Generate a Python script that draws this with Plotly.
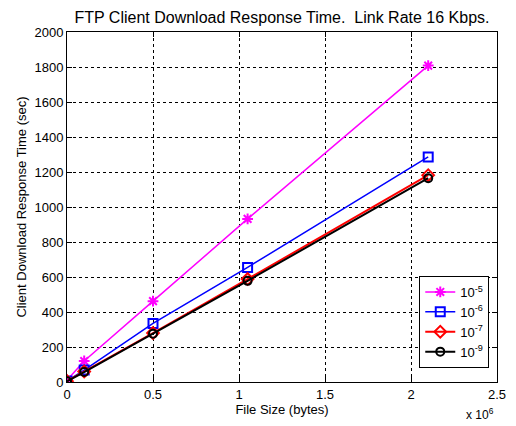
import plotly.graph_objects as go

file_size = [0, 1.0e5, 5.0e5, 1.05e6, 2.1e6]
ber_labels = ["10<sup>-5</sup>", "10<sup>-6</sup>", "10<sup>-7</sup>", "10<sup>-9</sup>"]
resp_1e5 = [10, 120, 462, 932, 1808]
resp_1e6 = [6, 68, 335, 655, 1286]
resp_1e7 = [5, 60, 280, 588, 1182]
resp_1e9 = [4, 57, 276, 578, 1165]

x_tickvals = [0, 5e5, 1e6, 1.5e6, 2e6, 2.5e6]
x_ticktext = ["0", "0.5", "1", "1.5", "2", "2.5"]
y_tickvals = list(range(0, 2001, 200))

series = [
    (resp_1e5, "#ff00ff", "asterisk-open", 9, 1.5),
    (resp_1e6, "#0000ff", "square-open", 9, 1.5),
    (resp_1e7, "#ff0000", "diamond-open", 9, 2),
    (resp_1e9, "#000000", "circle-open", 8, 2),
]

fig = go.Figure()
for (vals, color, sym, size, lw), name in zip(series, ber_labels):
    fig.add_trace(go.Scatter(
        x=file_size, y=vals, name=name, mode="lines+markers",
        line=dict(color=color, width=lw),
        marker=dict(symbol=sym, size=size, color=color,
                    line=dict(color=color, width=2)),
    ))

font = "Liberation Sans, Arial, sans-serif"
axis_common = dict(
    showline=True, linecolor="black", linewidth=1, mirror="ticks",
    ticks="inside", ticklen=5, tickcolor="black",
    showgrid=True, gridcolor="black", gridwidth=1, griddash="3px,3px",
    zeroline=False, tickfont=dict(family=font, size=13, color="black"),
)

fig.update_layout(
    width=508, height=418,
    margin=dict(l=59, r=10, t=24, b=44),
    paper_bgcolor="white", plot_bgcolor="white",
    font=dict(family=font, size=12, color="black"),
    title=dict(text="FTP Client Download Response Time.  Link Rate 16 Kbps.",
               xref="paper", x=0.5, xanchor="center",
               yref="container", y=0.978, yanchor="middle",
               font=dict(family=font, size=16, color="black")),
    xaxis=dict(range=[0, 2.5e6], tickvals=x_tickvals, ticktext=x_ticktext,
               title=dict(text="File Size (bytes)", standoff=2,
                          font=dict(family=font, size=13)),
               **axis_common),
    yaxis=dict(range=[0, 2000], tickvals=y_tickvals,
               title=dict(text="Client Download Response Time (sec)", standoff=4,
                          font=dict(family=font, size=13)),
               **axis_common),
    legend=dict(x=0.982, xanchor="right", y=0.04, yanchor="bottom",
                bgcolor="white", bordercolor="black", borderwidth=1,
                font=dict(family=font, size=13, color="black"),
                itemwidth=30, tracegroupgap=0),
    showlegend=True,
)

fig.add_annotation(text="x 10<sup>6</sup>", xref="paper", yref="paper",
                   x=0.998, y=-0.09, xanchor="right", yanchor="middle",
                   showarrow=False, font=dict(family=font, size=12, color="black"))

fig.write_html("out.html")
